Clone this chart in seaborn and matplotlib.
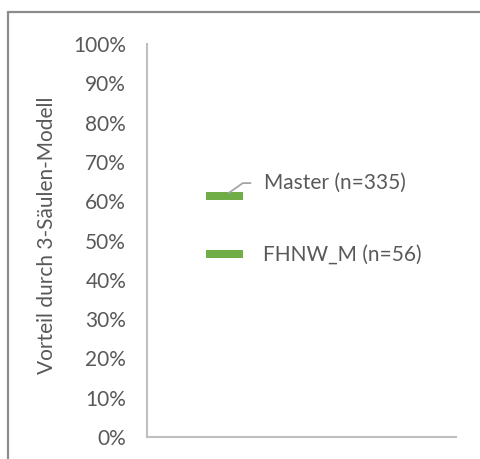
import matplotlib
matplotlib.use("Agg")
import matplotlib.pyplot as plt
from matplotlib.lines import Line2D
from matplotlib.ticker import PercentFormatter
import seaborn as sns
import pandas as pd

# Data
groups = ["Master (n=335)", "FHNW_M (n=56)"]
shares = [0.613, 0.466]
positions = [0, 0]
y_ticks = [i / 10 for i in range(11)]
y_label = "Vorteil durch 3-Säulen-Modell"

df = pd.DataFrame({"group": groups, "share": shares, "pos": positions})

sns.set_theme(style="white")
plt.rcParams["font.family"] = ["Lato", "DejaVu Sans"]

TEXT = "#595959"
GREEN = "#70AD47"
AXIS = "#BFBFBF"
FS = 15

W, H, DPI = 480, 459, 100
fig = plt.figure(figsize=(W / DPI, H / DPI), dpi=DPI)

# frame around the chart area
fig.add_artist(Line2D([8 / W, 8 / W], [0, 1 - 12 / H], transform=fig.transFigure,
                      color="#8C8C8C", lw=1.6))
fig.add_artist(Line2D([8 / W, 1], [1 - 12 / H, 1 - 12 / H], transform=fig.transFigure,
                      color="#8C8C8C", lw=1.6))

left, right, bottom, top = 147, 456, 437, 44
ax = fig.add_axes([left / W, 1 - bottom / H, (right - left) / W, (bottom - top) / H])

marker_w = 37 * 72 / DPI
sns.scatterplot(data=df, x="pos", y="share", marker="_", s=marker_w ** 2,
                color=GREEN, linewidth=8 * 72 / DPI, legend=False, ax=ax, zorder=3)

ax.set_xlim(-0.5, 1.5)
ax.set_ylim(0, 1)
ax.set_yticks(y_ticks)
ax.yaxis.set_major_formatter(PercentFormatter(1.0, decimals=0))
ax.set_xticks([])
ax.set_xlabel("")
ax.tick_params(axis="y", length=0, pad=15, labelsize=FS, labelcolor=TEXT)

for side in ["top", "right"]:
    ax.spines[side].set_visible(False)
for side in ["left", "bottom"]:
    ax.spines[side].set_color(AXIS)
    ax.spines[side].set_linewidth(1.5)

ax.set_ylabel(y_label, fontsize=FS, color=TEXT, va="center")
ax.yaxis.set_label_coords((47 - left) / (right - left), (bottom - 235.5) / (bottom - top))

# value labels
ax.annotate(groups[0], xy=(positions[0], shares[0]), xytext=(40, 13),
            textcoords="offset pixels", ha="left", va="center", fontsize=FS, color=TEXT,
            arrowprops=dict(arrowstyle="-", color="#A6A6A6", lw=1.3,
                            connectionstyle="angle,angleA=180,angleB=35,rad=0",
                            relpos=(0, 0.5), shrinkA=7.5, shrinkB=4))
ax.annotate(groups[1], xy=(positions[1], shares[1]), xytext=(39, -1),
            textcoords="offset pixels", ha="left", va="center", fontsize=FS, color=TEXT)

fig.savefig("out.png", dpi=DPI)
